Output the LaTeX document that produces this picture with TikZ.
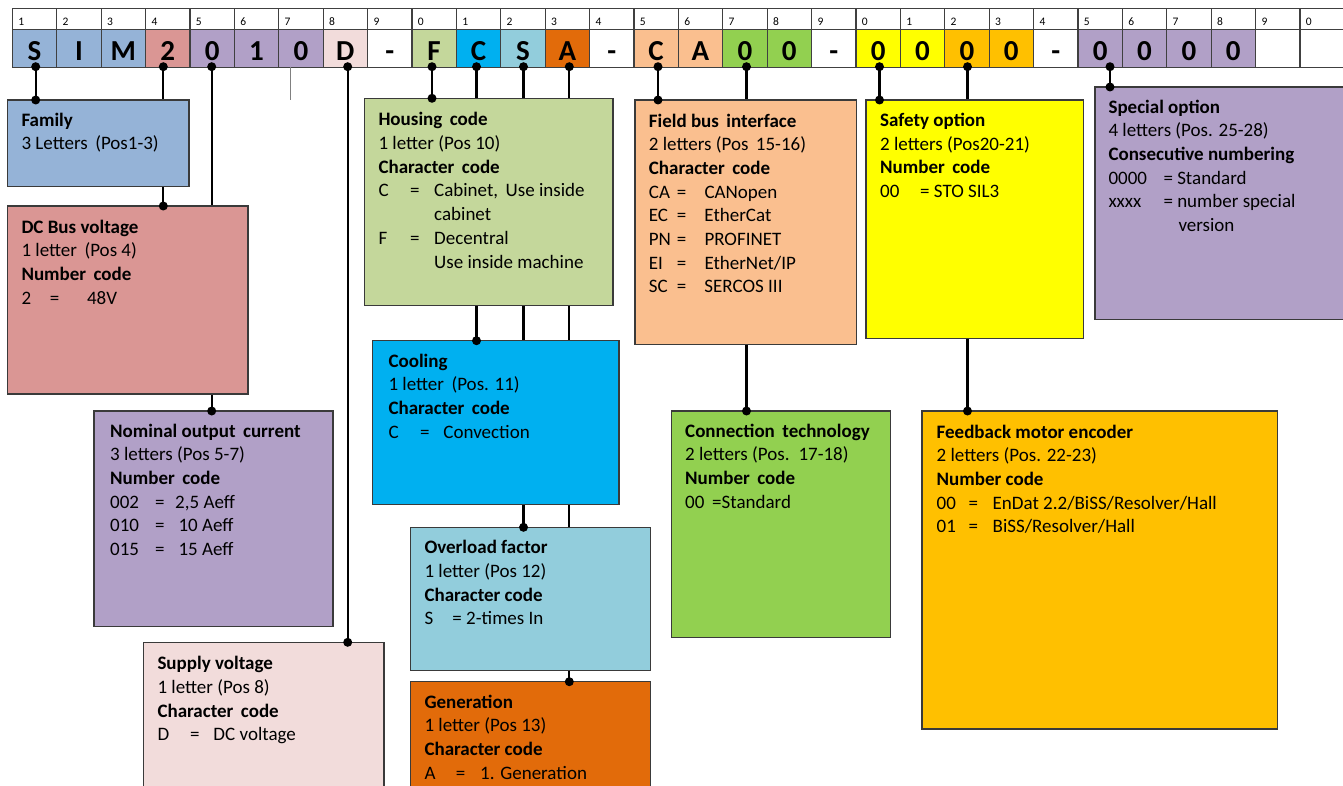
\documentclass[tikz,border=0pt]{standalone}
\usepackage{fontspec}
\setmainfont{Carlito}
\definecolor{cfam}{HTML}{95B3D7}
\definecolor{cdc}{HTML}{DA9694}
\definecolor{cpur}{HTML}{B1A0C7}
\definecolor{csup}{HTML}{F2DCDB}
\definecolor{chous}{HTML}{C4D79B}
\definecolor{ccool}{HTML}{00B0F0}
\definecolor{cover}{HTML}{92CDDC}
\definecolor{cgen}{HTML}{E26B0A}
\definecolor{cfield}{HTML}{FABF8F}
\definecolor{cconn}{HTML}{92D050}
\definecolor{csafe}{HTML}{FFFF00}
\definecolor{cfeed}{HTML}{FFC000}
\definecolor{gridc}{HTML}{404040}
\definecolor{boxc}{HTML}{3A3A3A}
\newcommand\kv[4]{\rlap{#3}\hspace*{#1pt}\rlap{=}\hspace*{\dimexpr#2pt-#1pt\relax}#4}
\newcommand\ind[2]{\hspace*{#1pt}#2}
\tikzset{
  numcell/.style={draw=gridc, line width=1.2pt, anchor=north west, minimum width=44.4pt, minimum height=21pt, inner xsep=6pt, inner ysep=0pt, text width=32.4pt, align=left, text height=11.4pt, text depth=0pt, font=\fontsize{11.5}{12}\selectfont},
  letcell/.style={draw=gridc, line width=1.2pt, anchor=north west, minimum width=44.4pt, minimum height=37.4pt, inner sep=0pt, text height=24pt, text depth=0pt, font=\fontsize{29}{30}\selectfont\bfseries},
  box/.style={draw=boxc, line width=1.2pt, anchor=north west, inner sep=0pt},
  txt/.style={anchor=north west, inner sep=0pt, align=left, font=\fontsize{19}{23.7}\selectfont},
  conn/.style={line width=2.3pt, black},
  thinl/.style={line width=0.8pt, gray},
  dotr/.style={black},
}
\begin{document}
\begin{tikzpicture}[x=1pt,y=-1pt]
\useasboundingbox (0,0) rectangle (1343,786);
\clip (0,0) rectangle (1343,786);
\fill[white] (0,0) rectangle (1343,786);
% header
\foreach \i/\l/\c in {1/S/cfam,2/I/cfam,3/M/cfam,4/2/cdc,5/0/cpur,6/1/cpur,7/0/cpur,8/D/csup,9/-/white,10/F/chous,11/C/ccool,12/S/cover,13/A/cgen,14/-/white,15/C/cfield,16/A/cfield,17/0/cconn,18/0/cconn,19/-/white,20/0/csafe,21/0/csafe,22/0/cfeed,23/0/cfeed,24/-/white,25/0/cpur,26/0/cpur,27/0/cpur,28/0/cpur,29/{}/white,30/{}/white}
{
  \pgfmathtruncatemacro\d{mod(\i,10)}
  \node[numcell] (n\i) at ({11.7+44.4*(\i-1)},8.3) {\d};
  \node[letcell, fill=\c] (c\i) at ({11.7+44.4*(\i-1)},29.3) {\l};
}
% connector start points
\coordinate (hS) at (35.7,66.7);
\coordinate (hV) at (163.3,66.7);
\coordinate (hI) at (211.7,66.7);
\coordinate (hG) at (290,66.7);
\coordinate (hD) at (347.7,66.7);
\coordinate (hF) at (432,66.7);
\coordinate (hC) at (476.5,66.7);
\coordinate (hO) at (523.5,66.7);
\coordinate (hA) at (569.3,66.7);
\coordinate (hB) at (658,66.7);
\coordinate (hT) at (746.5,66.7);
\coordinate (hY) at (879.5,66.7);
\coordinate (hE) at (967.5,66.7);
\coordinate (hX) at (1110,66.7);
\coordinate (thinEnd) at (290,100);
% box positions (invisible placeholders for connector targets)
\path
  node[box, draw=none, minimum width=180.4pt, minimum height=85.7pt] (family) at (7.3,100) {}
  node[box, draw=none, minimum width=239.4pt, minimum height=186.7pt] (dcbus) at (7.3,206) {}
  node[box, draw=none, minimum width=237.7pt, minimum height=214pt] (nominal) at (94,411) {}
  node[box, draw=none, minimum width=239.4pt, minimum height=160pt] (supply) at (143.3,642.3) {}
  node[box, draw=none, minimum width=247.4pt, minimum height=205.7pt] (housing) at (364.3,98.3) {}
  node[box, draw=none, minimum width=245.4pt, minimum height=162.6pt] (cooling) at (372.3,340.7) {}
  node[box, draw=none, minimum width=239pt, minimum height=142pt] (overload) at (410.3,527.3) {}
  node[box, draw=none, minimum width=239pt, minimum height=120pt] (generation) at (410.3,681.7) {}
  node[box, draw=none, minimum width=220pt, minimum height=243pt] (fieldbus) at (635,100) {}
  node[box, draw=none, minimum width=218.3pt, minimum height=225pt] (connection) at (671.2,411) {}
  node[box, draw=none, minimum width=216.3pt, minimum height=237.3pt] (safety) at (866,100) {}
  node[box, draw=none, minimum width=354.5pt, minimum height=316.7pt] (feedback) at (922,411) {}
  node[box, draw=none, minimum width=247.5pt, minimum height=231pt] (special) at (1095,87) {};
% connectors (drawn before the filled boxes, so they pass behind)
\draw[conn] (hS) -- (hS |- family.north);
\draw[conn] (hV) -- (hV |- dcbus.north);
\draw[conn] (hI) -- (hI |- nominal.north);
\draw[thinl] (hG) -- (thinEnd);
\draw[conn] (hD) -- (hD |- supply.north);
\draw[conn] (hF) -- (hF |- housing.north);
\draw[conn] (hC) -- (hC |- cooling.north);
\draw[conn] (hO) -- (hO |- overload.north);
\draw[conn] (hA) -- (hA |- generation.north);
\draw[conn] (hB) -- (hB |- fieldbus.north);
\draw[conn] (hT) -- (hT |- connection.north);
\draw[conn] (hY) -- (hY |- safety.north);
\draw[conn] (hE) -- (hE |- feedback.north);
\draw[conn] (hX) -- (hX |- special.north);
% filled boxes
\foreach \b/\c in {family/cfam,dcbus/cdc,nominal/cpur,supply/csup,housing/chous,cooling/ccool,overload/cover,generation/cgen,fieldbus/cfield,connection/cconn,safety/csafe,feedback/cfeed,special/cpur}
  \draw[draw=boxc, line width=1.2pt, fill=\c] (\b.north west) rectangle (\b.south east);
% texts
\node[txt] (familyT) at ([shift={(14,12.5)}]family.north west)
  {\textbf{Family}\\3 Letters \,(Pos1-3)};
\node[txt] (dcbusT) at ([shift={(14,13.5)}]dcbus.north west)
  {\textbf{DC Bus voltage}\\1 letter \,(Pos 4)\\\textbf{Number \,code}\\\kv{28.3}{65.6}{2}{48V}};
\node[txt] (nominalT) at ([shift={(16,12.5)}]nominal.north west)
  {\textbf{Nominal output \,current}\\3 letters (Pos 5-7)\\\textbf{Number \,code}\\\kv{45}{65}{002}{2,5 Aeff}\\\kv{45}{68.3}{010}{10 Aeff}\\\kv{45}{68.3}{015}{15 Aeff}};
\node[txt] (supplyT) at ([shift={(14,14)}]supply.north west)
  {\textbf{Supply voltage}\\1 letter (Pos 8)\\\textbf{Character \,code}\\\kv{32.7}{56}{D}{DC voltage}};
\node[txt] (housingT) at ([shift={(14,14)}]housing.north west)
  {\textbf{Housing \,code}\\1 letter (Pos 10)\\\textbf{Character \,code}\\\kv{31.7}{55.7}{C}{Cabinet, \,Use inside}\\\ind{55.7}{cabinet}\\\kv{31.7}{55.7}{F}{Decentral}\\\ind{55.7}{Use inside machine}};
\node[txt] (coolingT) at ([shift={(16,13)}]cooling.north west)
  {\textbf{Cooling}\\1 letter \,(Pos. 11)\\\textbf{Character \,code}\\\kv{31.7}{55}{C}{Convection}};
\node[txt] (overloadT) at ([shift={(14,13)}]overload.north west)
  {\textbf{Overload factor}\\1 letter (Pos 12)\\\textbf{Character code}\\\rlap{S}\hspace*{28pt}= 2-times In};
\node[txt] (generationT) at ([shift={(14,13)}]generation.north west)
  {\textbf{Generation}\\1 letter (Pos 13)\\\textbf{Character code}\\\kv{31.4}{55.7}{A}{1. Generation}};
\node[txt] (fieldbusT) at ([shift={(13.7,13.5)}]fieldbus.north west)
  {\textbf{Field bus \,interface}\\2 letters (Pos \,15-16)\\\textbf{Character \,code}\\\kv{28}{55.6}{CA}{CANopen}\\\kv{28}{55.6}{EC}{EtherCat}\\\kv{28}{55.6}{PN}{PROFINET}\\\kv{28}{55.6}{EI}{EtherNet/IP}\\\kv{28}{55.6}{SC}{SERCOS III}};
\node[txt] (connectionT) at ([shift={(13.8,12.5)}]connection.north west)
  {\textbf{Connection \,technology}\\2 letters (Pos. \,17-18)\\\textbf{Number \,code}\\\rlap{00}\hspace*{27pt}=Standard};
\node[txt] (safetyT) at ([shift={(14,13)}]safety.north west)
  {\textbf{Safety option}\\2 letters (Pos20-21)\\\textbf{Number \,code}\\\rlap{00}\hspace*{40pt}= STO SIL3};
\node[txt] (feedbackT) at ([shift={(14.5,13.5)}]feedback.north west)
  {\textbf{Feedback motor encoder}\\2 letters (Pos. 22-23)\\\textbf{Number code}\\\kv{32}{56}{00}{EnDat 2.2/BiSS/Resolver/Hall}\\\kv{32}{56}{01}{BiSS/Resolver/Hall}};
\node[txt] (specialT) at ([shift={(13.3,12.5)}]special.north west)
  {\textbf{Special option}\\4 letters (Pos. 25-28)\\\textbf{Consecutive numbering}\\\rlap{0000}\hspace*{55pt}= Standard\\\rlap{xxxx}\hspace*{55pt}= number special\\\ind{70}{version}};
% dots
\foreach \p/\b in {hS/family,hV/dcbus,hI/nominal,hD/supply,hF/housing,hC/cooling,hO/overload,hA/generation,hB/fieldbus,hT/connection,hY/safety,hE/feedback,hX/special}{
  \fill[dotr] (\p) circle[radius=4.5pt];
  \fill[dotr] (\p |- \b.north) circle[radius=4.5pt];
}
\end{tikzpicture}
\end{document}
